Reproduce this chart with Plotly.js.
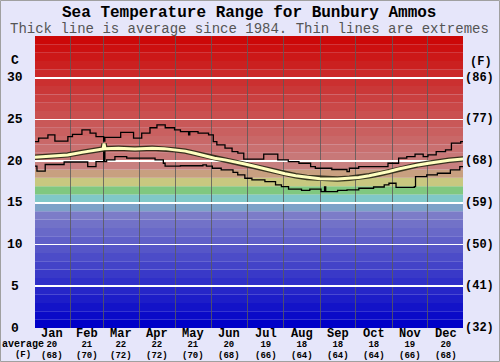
<!DOCTYPE html>
<html><head><meta charset="utf-8">
<script src="https://cdn.plot.ly/plotly-3.0.1.min.js"></script>
<style>html,body{margin:0;padding:0;background:#e6e6fa;}#chart{width:500px;height:362px;}</style>
</head><body><div id="chart"></div>
<script>
// ---- data ----
const months = ['Jan','Feb','Mar','Apr','May','Jun','Jul','Aug','Sep','Oct','Nov','Dec'];
const monthDays = [31,28,31,30,31,30,31,31,30,31,30,31];
const avgC = [20,21,22,22,21,20,19,18,18,18,19,20];
const avgF = [68,70,72,72,70,68,66,64,64,64,66,68];
const yTicksC = [0,5,10,15,20,25,30];
const yTicksF = ['(32)','(41)','(50)','(59)','(68)','(77)','(86)'];

const maxDay  = [0,4.4,12.3,18.2,29.2,33.1,41.1,48,53,59.5,60.5,73.9,84.8,91.7,98.7,104.6,111.6,119.5,124.5,131.4,132.4,139.4,148.3,152.3,155.3,162.2,168.2,173.1,178.1,195,206.9,215.8,224.8,234.7,238.7,252.6,265.5,267.5,275.4,300.2,309.2,316.1,323.1,330,334,341,348.9,353.9,361.8,366];
const maxTemp = [22.35,22.75,23.15,22.4,22.95,23.2,23.75,23.35,22.95,22.4,22.85,23.45,22.75,23.35,24.0,24.35,24.0,23.75,23.55,23.15,23.55,23.35,23.15,22.35,21.95,21.55,21.15,20.95,20.25,20.85,20.15,19.95,19.75,19.35,19.15,19.0,18.75,19.15,19.35,19.75,20.35,20.55,20.85,20.55,20.75,21.15,21.35,22.15,22.35,22.35];

const minDay  = [0,3,10,26,46,53,59.5,60.5,62,69,79,103,110,111.5,124.5,143.5,146.5,151.5,159,169,173,179,185,196,205,210,216,227,234,243.5,246.5,247.5,257.5,265.5,275.5,288,297,301,307,322.5,323.5,333,342,353,361,366];
const minTemp = [19.4,18.8,19.6,19.9,19.35,19.95,21.6,19.95,20.15,20.55,20.35,20.15,19.75,19.4,19.45,19.55,19.4,19.15,18.95,18.65,18.35,17.95,17.75,17.55,17.15,16.95,16.65,16.5,16.65,16.35,16.9,16.35,16.5,16.55,16.75,16.9,17.15,17.35,16.85,16.95,18.15,18.35,18.55,18.95,19.35,19.35];

const avgDay  = [0,15,29,41,52,59,59.8,60.6,72,86,100.6,110.6,119.5,128.5,136.4,145.3,153.3,162.2,170.2,179,188,196,205,213,222,231.7,242.6,257.5,267.5,275.4,284.3,292.2,301,309,316.8,325.7,334.6,342.5,352,366];
const avgTemp = [20.45,20.6,20.75,21.05,21.35,21.45,22.1,21.5,21.55,21.45,21.55,21.5,21.35,21.2,20.95,20.65,20.35,20.15,19.95,19.65,19.35,19.05,18.75,18.5,18.25,18.05,17.9,17.85,17.95,18.05,18.25,18.45,18.75,19.05,19.3,19.55,19.75,19.95,20.1,20.3];

// ---- derived axis helpers ----
const bounds = []; const centers = [];
let acc = 0;
monthDays.forEach((d,i)=>{ centers.push(acc + d/2); acc += d; if(i<11) bounds.push(acc); });

const FONT = 'Liberation Mono, DejaVu Sans Mono, monospace';

function bandColor(i){
  if(i<14){ const v=Math.round(i*9.5); return `rgb(${v},${v},200)`; }
  if(i===14) return 'rgb(125,162,200)';
  if(i===15) return 'rgb(128,200,200)';
  if(i===16) return 'rgb(128,200,128)';
  if(i===17) return 'rgb(200,200,128)';
  if(i===18) return 'rgb(200,160,128)';
  const g=Math.round(128-(i-19)*8); const r=Math.round(200+(i-19)*0.27);
  return `rgb(${r},${g},${g})`;
}
const shapes = [];
for(let i=0;i<35;i++){
  shapes.push({type:'rect',layer:'below',xref:'paper',x0:0,x1:1,yref:'y',y0:i,y1:i+1,
    fillcolor:bandColor(i),line:{width:0}});
}
// figure border
shapes.push({type:'rect',layer:'above',xref:'paper',yref:'paper',
  x0:(0.5-35)/428,x1:(499.5-35)/428,y0:(328-361.5)/292,y1:(328-0.5)/292,
  line:{color:'#a0a0a0',width:1},fillcolor:'rgba(0,0,0,0)'});

const ann = [];
ann.push({xref:'paper',yref:'paper',x:0.5,y:(328-13)/292,xanchor:'center',yanchor:'middle',showarrow:false,
  text:'<b>Sea Temperature Range for Bunbury Ammos</b>',font:{family:FONT,size:16,color:'#000'}});
ann.push({xref:'paper',yref:'paper',x:0.5,y:(328-28.5)/292,xanchor:'center',yanchor:'middle',showarrow:false,
  text:'Thick line is average since 1984. Thin lines are extremes',font:{family:FONT,size:14,color:'#555'}});
yTicksC.forEach((v,i)=>{
  ann.push({xref:'paper',yref:'y',x:(15-35)/428,y:v,xanchor:'center',yanchor:'middle',showarrow:false,
    text:'<b>'+v+'</b>',font:{family:FONT,size:13,color:'#000'}});
  ann.push({xref:'paper',yref:'y',x:(480-35)/428,y:v,xanchor:'center',yanchor:'middle',showarrow:false,
    text:'<b>'+yTicksF[i]+'</b>',font:{family:FONT,size:12,color:'#000'}});
});
ann.push({xref:'paper',yref:'paper',x:(15-35)/428,y:(328-60)/292,xanchor:'center',yanchor:'middle',showarrow:false,
  text:'<b>C</b>',font:{family:FONT,size:13,color:'#000'}});
ann.push({xref:'paper',yref:'paper',x:(481-35)/428,y:(328-62)/292,xanchor:'center',yanchor:'middle',showarrow:false,
  text:'<b>(F)</b>',font:{family:FONT,size:12,color:'#000'}});
months.forEach((m,i)=>{
  ann.push({xref:'x',yref:'paper',x:centers[i],y:(328-344)/292,xanchor:'center',yanchor:'middle',showarrow:false,
    borderpad:0,
    text:'<span style="font-size:12px"><b>'+m+'</b></span><br><span style="font-size:9px"><b>'+avgC[i]+
      '</b></span><br><span style="font-size:9px"><b>('+avgF[i]+')</b></span>',
    font:{family:FONT,size:8,color:'#000'}});
});
ann.push({xref:'paper',yref:'paper',x:(22.5-35)/428,y:(328-349)/292,xanchor:'center',yanchor:'middle',showarrow:false,
  borderpad:0,
  text:'<span style="font-size:10px"><b>average</b></span><br><span style="font-size:9px"><b>(F)</b></span>',
  font:{family:FONT,size:8,color:'#000'}});

const traces = [
  {x:maxDay,y:maxTemp,type:'scatter',mode:'lines',line:{color:'#000',width:1.3,shape:'hv'},hoverinfo:'skip'},
  {x:minDay,y:minTemp,type:'scatter',mode:'lines',line:{color:'#000',width:1.3,shape:'hv'},hoverinfo:'skip'},
  {x:avgDay,y:avgTemp,type:'scatter',mode:'lines',line:{color:'rgba(40,40,20,0.9)',width:5.5},hoverinfo:'skip'},
  {x:avgDay,y:avgTemp,type:'scatter',mode:'lines',line:{color:'#ffffc0',width:3},hoverinfo:'skip'}
];

const layout = {
  width:500,height:362,margin:{l:35,r:37,t:36,b:34,pad:0},
  paper_bgcolor:'#e6e6fa',plot_bgcolor:'#e6e6fa',showlegend:false,
  xaxis:{range:[1.36,363.7],tickvals:bounds,showticklabels:false,ticks:'',showgrid:true,
    gridcolor:'rgba(90,90,90,0.8)',gridwidth:1,zeroline:false,showline:false,fixedrange:true},
  yaxis:{range:[0,35],tickvals:[5,10,15,20,25,30],showticklabels:false,ticks:'',showgrid:true,
    gridcolor:'#ffffff',gridwidth:1.6,zeroline:false,showline:false,fixedrange:true},
  shapes:shapes,annotations:ann
};
Plotly.newPlot('chart',traces,layout,{staticPlot:true,displayModeBar:false});
</script></body></html>
